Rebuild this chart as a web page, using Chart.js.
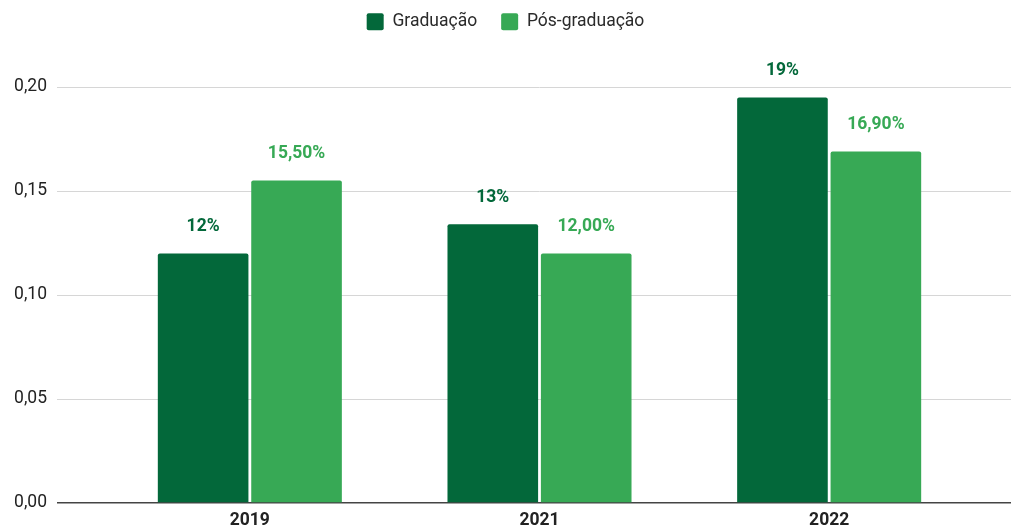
<!DOCTYPE html>
<html>
<head>
<meta charset="utf-8">
<script src="https://cdn.jsdelivr.net/npm/chart.js@4"></script>
<style>
  html, body { margin: 0; padding: 0; background: #fff; }
  #wrap { width: 1011px; height: 531px; }
</style>
</head>
<body>
<div id="wrap"><canvas id="taxaChart"></canvas></div>
<script>
// Chart data
var anos = ['2019', '2021', '2022'];
var graduacao = [0.12, 0.134, 0.195];
var posGraduacao = [0.155, 0.12, 0.169];
var graduacaoLabels = ['12%', '13%', '19%'];
var posGraduacaoLabels = ['15,50%', '12,00%', '16,90%'];

var corGrad = '#03683a';
var corPos = '#37a955';

Chart.defaults.font.family = 'Roboto, sans-serif';
Chart.defaults.font.size = 17.5;
Chart.defaults.color = '#222';

// value labels above bars
var barLabels = {
    id: 'barLabels',
    afterDatasetsDraw: function(chart) {
        var ctx = chart.ctx;
        var texts = [graduacaoLabels, posGraduacaoLabels];
        ctx.save();
        ctx.font = 'bold 17.5px Roboto, sans-serif';
        ctx.textAlign = 'center';
        ctx.textBaseline = 'middle';
        chart.data.datasets.forEach(function(ds, i) {
            ctx.fillStyle = ds.backgroundColor;
            chart.getDatasetMeta(i).data.forEach(function(bar, j) {
                ctx.fillText(texts[i][j], bar.x, bar.y - 27);
            });
        });
        ctx.restore();
    }
};

// extra room under the legend
var legendSpace = {
    id: 'legendSpace',
    beforeInit: function(chart) {
        var fit = chart.legend.fit;
        chart.legend.fit = function() {
            fit.bind(chart.legend)();
            this.height = 98;
        };
    }
};

function gridColor(c) {
    return c.tick && c.tick.value === 0 ? '#444' : '#d6d6d6';
}
function gridWidth(c) {
    return c.tick && c.tick.value === 0 ? 1.5 : 1;
}

var ctx = document.getElementById('taxaChart').getContext('2d');
var taxaChart = new Chart(ctx, {
    type: 'bar',
    data: {
        labels: anos,
        datasets: [{
            label: 'Graduação',
            data: graduacao,
            backgroundColor: corGrad,
            borderWidth: 0,
            borderRadius: 2,
            borderSkipped: 'bottom'
        }, {
            label: 'Pós-graduação',
            data: posGraduacao,
            backgroundColor: corPos,
            borderWidth: 0,
            borderRadius: 2,
            borderSkipped: 'bottom'
        }]
    },
    options: {
        responsive: true,
        maintainAspectRatio: false,
        animation: false,
        categoryPercentage: 0.645,
        barPercentage: 0.97,
        layout: { padding: { top: -11, left: 0, right: 0, bottom: 0 } },
        plugins: {
            legend: {
                position: 'top',
                labels: {
                    boxWidth: 17,
                    boxHeight: 17,
                    padding: 24,
                    color: '#2a2a2a',
                    font: { size: 17.5 },
                    useBorderRadius: true,
                    borderRadius: 2
                }
            },
            tooltip: { enabled: false }
        },
        scales: {
            x: {
                grid: { display: false, drawTicks: false },
                border: { display: false },
                ticks: { padding: 7, color: '#222', font: { size: 17.5, weight: 'bold' } },
                afterFit: function(s) { s.height = 28; }
            },
            y: {
                min: 0,
                max: 0.2,
                ticks: {
                    stepSize: 0.05,
                    padding: 10,
                    color: '#222',
                    font: { size: 17.5 },
                    callback: function(v) { return v.toFixed(2).replace('.', ','); }
                },
                grid: { color: gridColor, tickColor: gridColor, tickLength: 48, lineWidth: gridWidth },
                border: { display: false },
                afterFit: function(s) { s.width = 105; }
            },
            y2: {
                position: 'right',
                min: 0,
                max: 0.2,
                ticks: { display: false, stepSize: 0.05 },
                grid: { drawOnChartArea: false, color: gridColor, tickColor: gridColor, tickLength: 37, lineWidth: gridWidth },
                border: { display: false },
                afterFit: function(s) { s.width = 37; }
            }
        }
    },
    plugins: [barLabels, legendSpace]
});
</script>
</body>
</html>
